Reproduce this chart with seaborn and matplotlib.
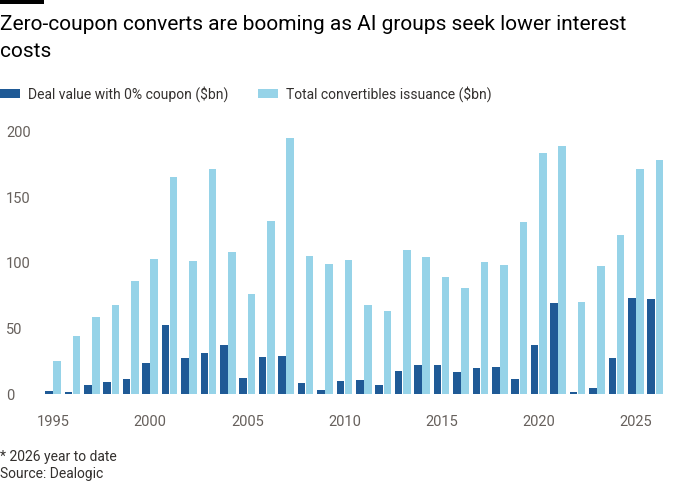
import matplotlib
matplotlib.use("Agg")
import matplotlib.pyplot as plt
from matplotlib.patches import Patch, Rectangle
import seaborn as sns
import pandas as pd

years = list(range(1995, 2027))
zero_coupon = [2.5, 1.5, 6.9, 9.2, 11.7, 23.6, 52.6, 27.2, 31.0, 37.1, 11.9, 28.0, 28.7, 8.1, 3.3, 9.9,
               10.7, 6.9, 17.3, 22.1, 21.9, 16.8, 19.6, 20.6, 11.4, 37.1, 69.4, 1.3, 4.6, 27.5, 73.2, 72.4]
total_issuance = [25.4, 44.2, 58.7, 67.9, 86.4, 103.0, 165.5, 101.2, 171.6, 108.5, 76.3, 131.7, 195.0, 105.5, 99.1, 102.2,
                  67.9, 63.3, 110.0, 104.5, 89.5, 80.8, 100.9, 98.4, 131.2, 184.0, 189.1, 70.2, 97.6, 121.0, 171.8, 178.4]
series_names = ["Deal value with 0% coupon ($bn)", "Total convertibles issuance ($bn)"]
tick_years = [1995, 2000, 2005, 2010, 2015, 2020, 2025]
y_ticks = [0, 50, 100, 150, 200]
title = "Zero-coupon converts are booming as AI groups seek lower interest\ncosts"
footnote = "* 2026 year to date"
source = "Source: Dealogic"

dark = "#1f5a96"
light = "#96d3e8"

df = pd.DataFrame({
    "year": years * 2,
    "value": zero_coupon + total_issuance,
    "series": [series_names[0]] * len(years) + [series_names[1]] * len(years),
})

sns.set_theme(style="white")
plt.rcParams["font.family"] = ["Roboto", "DejaVu Sans"]

W, H = 700, 500
fig = plt.figure(figsize=(7, 5), dpi=100)
ax_left = 43.3 / W
ax_right = 665.0 / W
ax_bottom = 1 - 394 / H
ax_top = 1 - 131.7 / H
ax = fig.add_axes([ax_left, ax_bottom, ax_right - ax_left, ax_top - ax_bottom])

sns.barplot(data=df, x="year", y="value", hue="series", order=years, hue_order=series_names,
            palette=[dark, light], width=0.84, gap=0.06, ax=ax, legend=False,
            saturation=1, edgecolor="none", linewidth=0)

ax.set_ylim(0, 200)
ax.set_xlim(-0.5, len(years) - 0.5)
ax.set_xlabel("")
ax.set_ylabel("")
for s in ax.spines.values():
    s.set_visible(False)

ax.set_xticks([years.index(y) for y in tick_years])
ax.set_xticklabels([str(y) for y in tick_years])
ax.set_yticks(y_ticks)
ax.set_yticklabels([str(v) for v in y_ticks])
ax.tick_params(axis="both", length=0, labelsize=10.5, colors="#66605c")
ax.tick_params(axis="x", pad=15)
ax.tick_params(axis="y", pad=(43.3 - 6) * 72 / 100)
for lab in ax.get_yticklabels():
    lab.set_horizontalalignment("left")

fig.text(0.0, 1 - 15 / H, title, ha="left", va="top", fontsize=15, color="#000000",
         linespacing=1.55)

handles = [Patch(facecolor=dark, edgecolor="none"), Patch(facecolor=light, edgecolor="none")]
fig.legend(handles, series_names, loc="center left", bbox_to_anchor=(0.0, 1 - 94 / H), ncol=2,
           frameon=False, fontsize=10, handlelength=1.44, handleheight=0.58, handletextpad=0.58,
           columnspacing=2.16, labelcolor="#33302e", borderaxespad=0, borderpad=0)

fig.text(0.0, 1 - 457 / H, footnote, ha="left", va="center", fontsize=10, color="#33302e")
fig.text(0.0, 1 - 474 / H, source, ha="left", va="center", fontsize=10, color="#33302e")

fig.patches.append(Rectangle((0, 1 - 4 / H), 44 / W, 4 / H, transform=fig.transFigure,
                             facecolor="black", edgecolor="none"))

fig.savefig("out.png", dpi=100, facecolor="white")
